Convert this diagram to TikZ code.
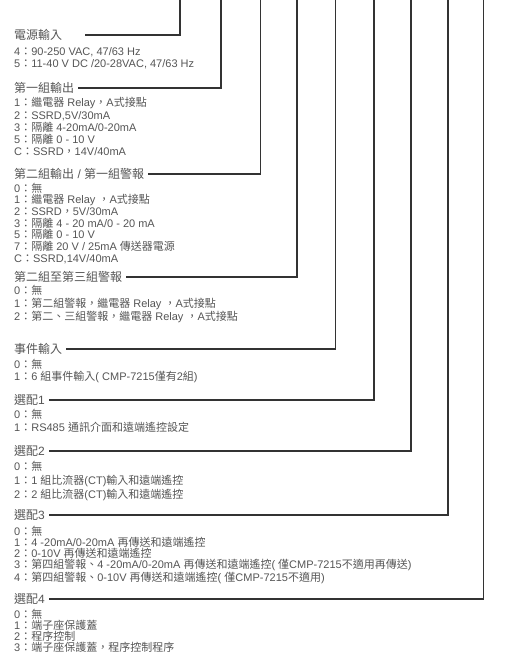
\documentclass[tikz,border=0pt]{standalone}
\usepackage{fontspec}
\setmainfont{Liberation Sans}
\newfontfamily\cjkfont{Noto Sans CJK TC}
% CJK runs switch to the CJK family by themselves
\newcount\cjkchar
\cjkchar="3000
\loop \XeTeXcharclass\cjkchar=1 \advance\cjkchar by 1 \ifnum\cjkchar<"3040 \repeat
\cjkchar="4E00
\loop \XeTeXcharclass\cjkchar=1 \advance\cjkchar by 1 \ifnum\cjkchar<"A000 \repeat
\cjkchar="FF00
\loop \XeTeXcharclass\cjkchar=1 \advance\cjkchar by 1 \ifnum\cjkchar<"FF70 \repeat
\XeTeXinterchartokenstate=1
\XeTeXinterchartoks 0 1 = {\begingroup\cjkfont}
\XeTeXinterchartoks 4095 1 = {\begingroup\cjkfont}
\XeTeXinterchartoks 1 0 = {\endgroup}
\XeTeXinterchartoks 1 4095 = {\endgroup}
\usetikzlibrary{positioning}
\definecolor{txtgray}{HTML}{555555}
\definecolor{linegray}{HTML}{333333}

\begin{document}
\begin{tikzpicture}[
    x=1pt, y=-1pt,
    head/.style={anchor=west, inner sep=0pt, font=\fontsize{12}{14}\selectfont, text=txtgray},
    lst/.style={anchor=north west, inner sep=0pt, align=left, text=txtgray,
                font=\fontsize{11}{#1}\selectfont},
    lst/.default=11.5,
    lead/.style={draw=linegray, line width=1.1pt, shorten <=4pt},
]
\useasboundingbox (0,0) rectangle (524,663);

% Tops of the code lines
\coordinate (pwrT)  at (180,0);
\coordinate (out1T) at (221,0);
\coordinate (out2T) at (260.5,0);
\coordinate (almT)  at (297,0);
\coordinate (evtT)  at (335.5,0);
\coordinate (opt1T) at (374,0);
\coordinate (opt2T) at (411,0);
\coordinate (opt3T) at (448,0);
\coordinate (opt4T) at (483.5,0);

% Headings
\node[head] (pwr)  at (14,35)  {電源輸入};
\node[head] (out1) at (14,88)  {第一組輸出};
\node[head] (out2) at (14,174) {第二組輸出 / 第一組警報};
\node[head] (alm)  at (14,277) {第二組至第三組警報};
\node[head] (evt)  at (14,349) {事件輸入};
\node[head] (opt1) at (14,400) {選配1};
\node[head] (opt2) at (14,451) {選配2};
\node[head] (opt3) at (14,515) {選配3};
\node[head] (opt4) at (14,599) {選配4};

% Option lists
\node[lst=12]   (pwrL)  at (14,47)    {4：90-250 VAC, 47/63 Hz\\
                                       5：11-40 V DC /20-28VAC, 47/63 Hz};
\node[lst=12.2] (out1L) at (14,97.5)  {1：繼電器 Relay，A式接點\\
                                       2：SSRD,5V/30mA\\
                                       3：隔離 4-20mA/0-20mA\\
                                       5：隔離 0 - 10 V\\
                                       C：SSRD，14V/40mA};
\node[lst=11.7] (out2L) at (14,182.5) {0：無\\
                                       1：繼電器 Relay ，A式接點\\
                                       2：SSRD，5V/30mA\\
                                       3：隔離 4 - 20 mA/0 - 20 mA\\
                                       5：隔離 0 - 10 V\\
                                       7：隔離 20 V / 25mA 傳送器電源\\
                                       C：SSRD,14V/40mA};
\node[lst=13]   (almL)  at (14,284.5) {0：無\\
                                       1：第二組警報，繼電器 Relay ，A式接點\\
                                       2：第二、三組警報，繼電器 Relay ，A式接點};
\node[lst=12.5] (evtL)  at (14,358.5) {0：無\\
                                       1：6 組事件輸入( CMP-7215僅有2組)};
\node[lst=13.5] (opt1L) at (14,408.5) {0：無\\
                                       1：RS485 通訊介面和遠端遙控設定};
\node[lst=14]   (opt2L) at (14,460.5) {0：無\\
                                       1：1 組比流器(CT)輸入和遠端遙控\\
                                       2：2 組比流器(CT)輸入和遠端遙控};
\node[lst=11.3] (opt3L) at (14,525.5) {0：無\\
                                       1：4 -20mA/0-20mA 再傳送和遠端遙控\\
                                       2：0-10V 再傳送和遠端遙控\\
                                       3：第四組警報、4 -20mA/0-20mA 再傳送和遠端遙控( 僅CMP-7215不適用再傳送)\\
                                       4：第四組警報、0-10V 再傳送和遠端遙控( 僅CMP-7215不適用)};
\node[lst=11.2] (opt4L) at (14,608.5) {0：無\\
                                       1：端子座保護蓋\\
                                       2：程序控制\\
                                       3：端子座保護蓋，程序控制程序};

% Lead lines
\draw[lead, shorten <=23pt] (pwr.east)  -| (pwrT);
\draw[lead] (out1.east) -| (out1T);
\draw[lead] (out2.east) -| (out2T);
\draw[lead] (alm.east)  -| (almT);
\draw[lead] (evt.east)  -| (evtT);
\draw[lead] (opt1.east) -| (opt1T);
\draw[lead] (opt2.east) -| (opt2T);
\draw[lead] (opt3.east) -| (opt3T);
\draw[lead] (opt4.east) -| (opt4T);
\end{tikzpicture}
\end{document}
